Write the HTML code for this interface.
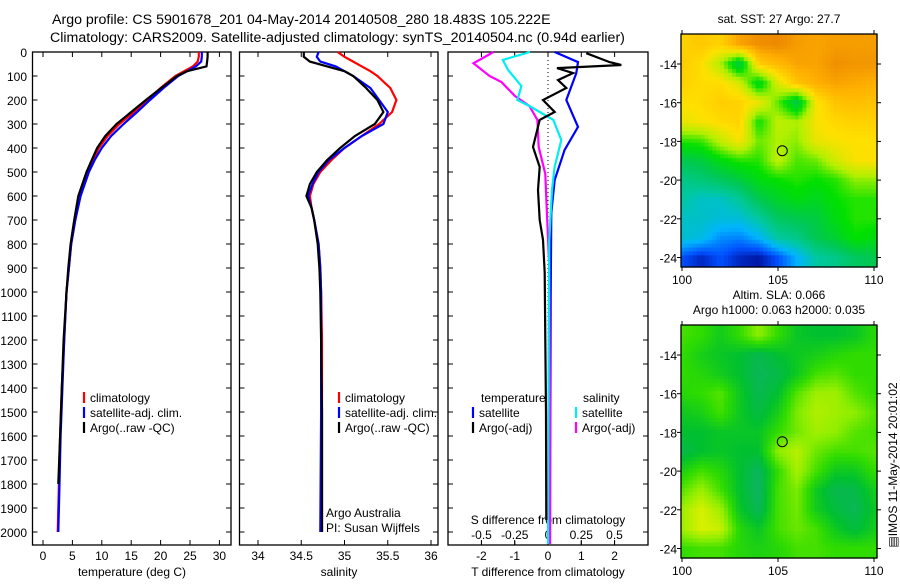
<!DOCTYPE html>
<html><head><meta charset="utf-8"><style>
body{margin:0;background:#fff}
svg text{font-family:"Liberation Sans",sans-serif;fill:#000}
</style></head><body>
<svg id="c" width="900" height="580" xmlns="http://www.w3.org/2000/svg">
<text x="52" y="24" font-size="14.2">Argo profile: CS 5901678_201 04-May-2014 20140508_280 18.483S 105.222E</text>
<text x="50" y="42" font-size="14.2">Climatology: CARS2009. Satellite-adjusted climatology: synTS_20140504.nc (0.94d earlier)</text>
</svg>
<script>
// ---------- DATA ----------
const tDepths=[0,20,40,60,80,100,150,200,250,300,350,400,450,500,600,700,800,900,1000,1200,1400,1600,1800,2000];
const tClim=[26.5,26.5,26.3,25.5,24.0,22.5,20.0,17.8,15.5,13.0,11.0,9.5,8.5,7.5,6.3,5.5,4.8,4.4,4.0,3.6,3.2,2.9,2.7,2.5];
const tSat=[27,27,26.9,26,24.5,23,20.5,18.2,16,13.7,11.6,10,8.8,7.8,6.4,5.5,4.8,4.4,4.0,3.6,3.3,3.0,2.8,2.6];
const tArgo=[28,28,27.9,27.8,24.5,22.8,20.1,17.5,15,12.5,10.6,9.2,8.3,7.4,6.0,5.3,4.7,4.3,4.0,3.5,3.2,2.9,2.6,2.5];
const sDepths=[0,20,40,60,80,100,150,200,250,300,350,400,450,500,550,600,650,700,800,900,1000,1200,1500,2000];
const sClim=[34.92,35.0,35.1,35.2,35.3,35.38,35.53,35.6,35.55,35.4,35.2,35.0,34.85,34.72,34.64,34.6,34.62,34.65,34.7,34.72,34.73,34.74,34.74,34.74];
const sSat=[34.7,34.68,34.72,34.9,35.0,35.1,35.3,35.4,35.5,35.45,35.2,35.0,34.82,34.7,34.63,34.58,34.62,34.65,34.7,34.72,34.73,34.73,34.73,34.72];
const sArgo=[34.53,34.53,34.6,34.8,35.0,35.1,35.25,35.38,35.45,35.35,35.12,34.95,34.8,34.68,34.6,34.56,34.62,34.65,34.69,34.71,34.72,34.73,34.74,34.74];
const dtSatDepths=[0,42,88,200,312,408,533,670,1000,1500,2050];
const dtSat=[0.2,0.9,0.85,0.55,0.9,0.5,0.2,0.1,0.08,0.07,0.06];
const dtArgoDepths=[5,42,54,67,88,117,150,200,250,283,396,479,575,700,783,920,1200,1500,1950];
const dtArgo=[1.15,1.85,2.2,0.27,0.75,0.3,0.55,-0.15,0.2,-0.25,-0.45,-0.25,-0.3,-0.25,-0.15,-0.1,-0.08,-0.06,-0.05];
const dsSatDepths=[0,33,75,142,200,225,283,367,479,575,783,1200,2050];
const dsSat=[-0.135,-0.34,-0.3,-0.2,-0.23,-0.14,0.04,0.1,0.05,0.03,0.01,0.005,0.0];
const dsArgoDepths=[0,47,100,125,183,225,283,396,508,650,900,1500,2050];
const dsArgo=[-0.41,-0.56,-0.44,-0.35,-0.25,-0.14,-0.08,-0.07,-0.02,-0.01,0.01,0.015,0.015];
const depthTicks=[0,100,200,300,400,500,600,700,800,900,1000,1100,1200,1300,1400,1500,1600,1700,1800,1900,2000];
const tTicks=[0,5,10,15,20,25,30];
const sTicks=[34,34.5,35,35.5,36];
const dtTicks=[-2,-1,0,1,2];
const dsTicks=[-0.5,-0.25,0,0.25,0.5];
const latTicks=[-14,-16,-18,-20,-22,-24];
const lonTicks=[100,105,110];
// SST grid (colour level 0-9), rows lat -13..-24, cols lon 100..110
const sstGrid=[
[7.3,7.5,7.3,8.2,8.5,8.6,8.3,8.2,8.3,8.3,8.3],[7.4,7.1,6,4,7.4,7.8,8.2,8.2,8.5,8.4,8.4],[7.3,7.1,7.1,6.5,4.5,6.5,7.6,8,8.2,8.1,8.0],[7.0,7.1,7.4,7.3,6.8,5.5,4,6.9,7.6,7.7,7.6],
[6.7,6.9,7.1,7.3,5,6.2,6,6.9,7.2,7.3,7.3],[5.2,5.3,6.2,6.9,5.6,6,5.8,6.7,6.9,7.0,7.0],[4,4.2,4.8,5.2,5.2,6.2,5.4,5.6,6.4,6.9,7.0],[3.3,3.5,3.8,4.2,4.8,5,5.2,5,5.2,5.8,5.8],
[3,2.6,2.6,3.1,4,4.5,4.8,4.6,5,5.2,5.2],[2.6,2.6,2.4,2.4,3,3.8,4,4.2,4.8,5.2,5.2],[2.5,2.3,1.6,1.5,2,3,3.3,4,4.4,5,4.8],[1,0.5,1,0.5,0.3,1,2,3,3.3,3.8,4]];
const slaGrid=[
[2.2,2,1.4,2,3,2,1.2,1,1,1.2,1.8],[2,1.5,1.2,1,0.5,1,1.3,1.5,1.8,2,2],[2,1.8,1.4,1,0.4,0.6,1.3,2.2,2.4,2,2],[1.8,2,2.4,1.3,0.5,1,2.4,3.2,3.2,2.4,2],
[1.3,1.5,2.2,1.3,0.7,1.5,2.8,3.4,3.2,3,2.4],[1,1,1.2,1.2,1.2,2,2.7,3.2,3,2.4,2.2],[0.6,1,1.2,1,1,3,3.5,2.6,2.2,2.2,2.4],[1.6,2.2,1.8,1,0.3,2,3.3,2.2,1.3,1.3,2],
[2.4,3.2,2.2,1,0.2,2.2,2.8,1.3,0.5,0.6,1.4],[3.2,3.9,3.2,1.2,0.4,2.2,2.7,1.4,0.8,0.4,1.2],[3.2,3.9,3.7,1.8,1.2,2.2,2.6,2.2,1.3,0.8,1.4],[2,2.2,2.2,1.8,1.6,1.8,2.2,2.2,2,2,2]];
const argoLon=105.222, argoLat=-18.483;

// ---------- DRAW ----------
const svg=document.getElementById('c');const NS='http://www.w3.org/2000/svg';
function el(t,a,p){const e=document.createElementNS(NS,t);for(const k in a)e.setAttribute(k,a[k]);(p||svg).appendChild(e);return e;}
function txt(x,y,s,sz,anc,p){const e=el('text',{x,y,'font-size':sz||12,'text-anchor':anc||'start'},p);e.textContent=s;return e;}
const Y=d=>52+0.24*d;
function panel(name,x0,x1){const g=el('g',{});
 const r=el('rect',{x:x0,y:52,width:x1-x0,height:493,fill:'none',stroke:'#000','stroke-width':1.3},g);
 
 depthTicks.forEach(d=>{el('line',{x1:x0,x2:x0+5,y1:Y(d),y2:Y(d),stroke:'#000'},g);el('line',{x1:x1-5,x2:x1,y1:Y(d),y2:Y(d),stroke:'#000'},g);});
 return g;}
function line(g,xs,ds,fx,col,name){const pts=xs.map((v,i)=>fx(v).toFixed(1)+','+Y(ds[i]).toFixed(1)).join(' ');
 const p=el('polyline',{points:pts,fill:'none',stroke:col,'stroke-width':2.2},g);}
function xticks(g,ticks,fx,y,lab){ticks.forEach(t=>{const x=fx(t);el('line',{x1:x,x2:x,y1:545,y2:540,stroke:'#000'},g);el('line',{x1:x,x2:x,y1:52,y2:57,stroke:'#000'},g);txt(x,y,lab?lab(t):String(t),12,'middle',g);});}

// panel 1
const XT=t=>43+5.88*t;
const g1=panel('temperature-panel',32.5,231);
depthTicks.forEach(d=>txt(27,Y(d)+5,String(d),12,'end',g1));
xticks(g1,tTicks,XT,560);
txt(132,576,'temperature (deg C)',12,'middle',g1);
line(g1,tClim,tDepths,XT,'#f00','climatology-line');
line(g1,tSat,tDepths,XT,'#00f','satellite-line');
line(g1,tArgo.slice(0,23),tDepths.slice(0,23),XT,'#000','argo-line');
function legend(g,x,y,items){items.forEach((it,i)=>{el('line',{x1:x,x2:x,y1:y+i*15-10,y2:y+i*15+1,stroke:it[0],'stroke-width':2.2},g);txt(x+6,y+i*15,it[1],12,'start',g);});}
legend(g1,84,402,[['#f00','climatology'],['#00f','satellite-adj. clim.'],['#000','Argo(..raw -QC)']]);

// panel 2
const XS=s=>258+86.5*(s-34);
const g2=panel('salinity-panel',239.5,438);
xticks(g2,sTicks,XS,560);
txt(339,576,'salinity',12,'middle',g2);
line(g2,sClim,sDepths,XS,'#f00','climatology-line');
line(g2,sSat,sDepths,XS,'#00f','satellite-line');
line(g2,sArgo,sDepths,XS,'#000','argo-line');
legend(g2,339,402,[['#f00','climatology'],['#00f','satellite-adj. clim.'],['#000','Argo(..raw -QC)']]);
txt(326,517,'Argo Australia',12,'start',g2);txt(326,532,'PI: Susan Wijffels',12,'start',g2);

// panel 3
const XD=v=>548+33.3*v, XDS=v=>548+133*v;
const g3=panel('difference-panel',448,648);
xticks(g3,dtTicks,XD,560);
txt(548,576,'T difference from climatology',12,'middle',g3);
dsTicks.forEach(t=>{const x=XDS(t);el('line',{x1:x,x2:x,y1:545,y2:541,stroke:'#000'},g3);txt(x,539,String(t),12,'middle',g3);});
txt(548,524,'S difference from climatology',12,'middle',g3);
el('line',{x1:548,x2:548,y1:52,y2:545,stroke:'#000','stroke-dasharray':'1,3'},g3);
line(g3,dtSat,dtSatDepths,XD,'#00f','t-satellite-diff');
line(g3,dsArgo,dsArgoDepths,XDS,'#f0f','s-argo-diff');
line(g3,dsSat,dsSatDepths,XDS,'#0ee','s-satellite-diff');
line(g3,dtArgo,dtArgoDepths,XD,'#000','t-argo-diff');
txt(481,402,'temperature',12,'start',g3);txt(583,402,'salinity',12,'start',g3);
legend(g3,473,417,[['#00f','satellite'],['#000','Argo(-adj)']]);
legend(g3,576,417,[['#0ee','satellite'],['#f0f','Argo(-adj)']]);

// maps
const sstCols=[[0,0,127],[0,80,255],[0,180,255],[0,200,160],[0,200,80],[0,224,0],[176,240,0],[255,224,0],[255,176,0],[224,112,0]];
const slaCols=[[16,176,112],[0,192,48],[48,220,0],[144,238,0],[224,240,0]];
function colAt(cols,v){const n=cols.length-1;v=Math.max(0,Math.min(n,v));const i=Math.min(n-1,Math.floor(v)),f=v-i;
 const c=cols[i].map((a,k)=>Math.round(a+(cols[i+1][k]-a)*f));return 'rgb('+c.join(',')+')';}
function map(name,top,grid,cols,titles){
 const x0=681,x1=877,y1=top+233;const g=el('g',{});
 const LX=l=>682+19.2*(l-100), LY=l=>top+30+19.35*(-14-l);
 const nx=50, ny=60, cw=(x1-x0)/nx, ch=(y1-top)/ny;
 for(let j=0;j<ny;j++)for(let i=0;i<nx;i++){
  const lon=100+(x0+(i+0.5)*cw-682)/19.2, lat=-14-((top+(j+0.5)*ch)-(top+30))/19.35;
  let gx=Math.min(10,Math.max(0,lon-100)), gy=Math.min(11,Math.max(0,-13-lat));
  const ix=Math.min(9,Math.floor(gx)), iy=Math.min(10,Math.floor(gy)), fx=gx-ix, fy=gy-iy;
  const v=grid[iy][ix]*(1-fx)*(1-fy)+grid[iy][ix+1]*fx*(1-fy)+grid[iy+1][ix]*(1-fx)*fy+grid[iy+1][ix+1]*fx*fy;
  el('rect',{x:(x0+i*cw).toFixed(2),y:(top+j*ch).toFixed(2),width:(cw+0.6).toFixed(2),height:(ch+0.6).toFixed(2),fill:colAt(cols,v)},g);
 }
 el('rect',{x:x0,y:top,width:x1-x0,height:y1-top,fill:'none',stroke:'#000','stroke-width':1.3},g);
 latTicks.forEach(l=>{const y=LY(l);el('line',{x1:x0-4,x2:x0,y1:y,y2:y,stroke:'#000'},g);el('line',{x1:x1,x2:x1+4,y1:y,y2:y,stroke:'#000'},g);txt(677,y+5,String(l),12,'end',g);});
 lonTicks.forEach(l=>{const x=LX(l);el('line',{x1:x,x2:x,y1:top-4,y2:top,stroke:'#000'},g);el('line',{x1:x,x2:x,y1:y1,y2:y1+4,stroke:'#000'},g);txt(x,y1+17,String(l),12,'middle',g);});
 const m=el('circle',{cx:LX(argoLon),cy:LY(argoLat),r:5,fill:'none',stroke:'#000','stroke-width':1},g);
 
 titles.forEach((t,k)=>txt(779,top-(titles.length-k)*15+4,t,12,'middle',g));
}
map('sst-map',34,sstGrid,sstCols,['sat. SST: 27 Argo: 27.7']);
map('sla-map',325,slaGrid,slaCols,['Altim. SLA: 0.066','Argo h1000: 0.063 h2000: 0.035']);
const v=txt(0,0,'\u25A4IMOS 11-May-2014 20:01:02',12,'middle');
v.setAttribute('transform','translate(897,465) rotate(-90)');


</script>
</body></html>
